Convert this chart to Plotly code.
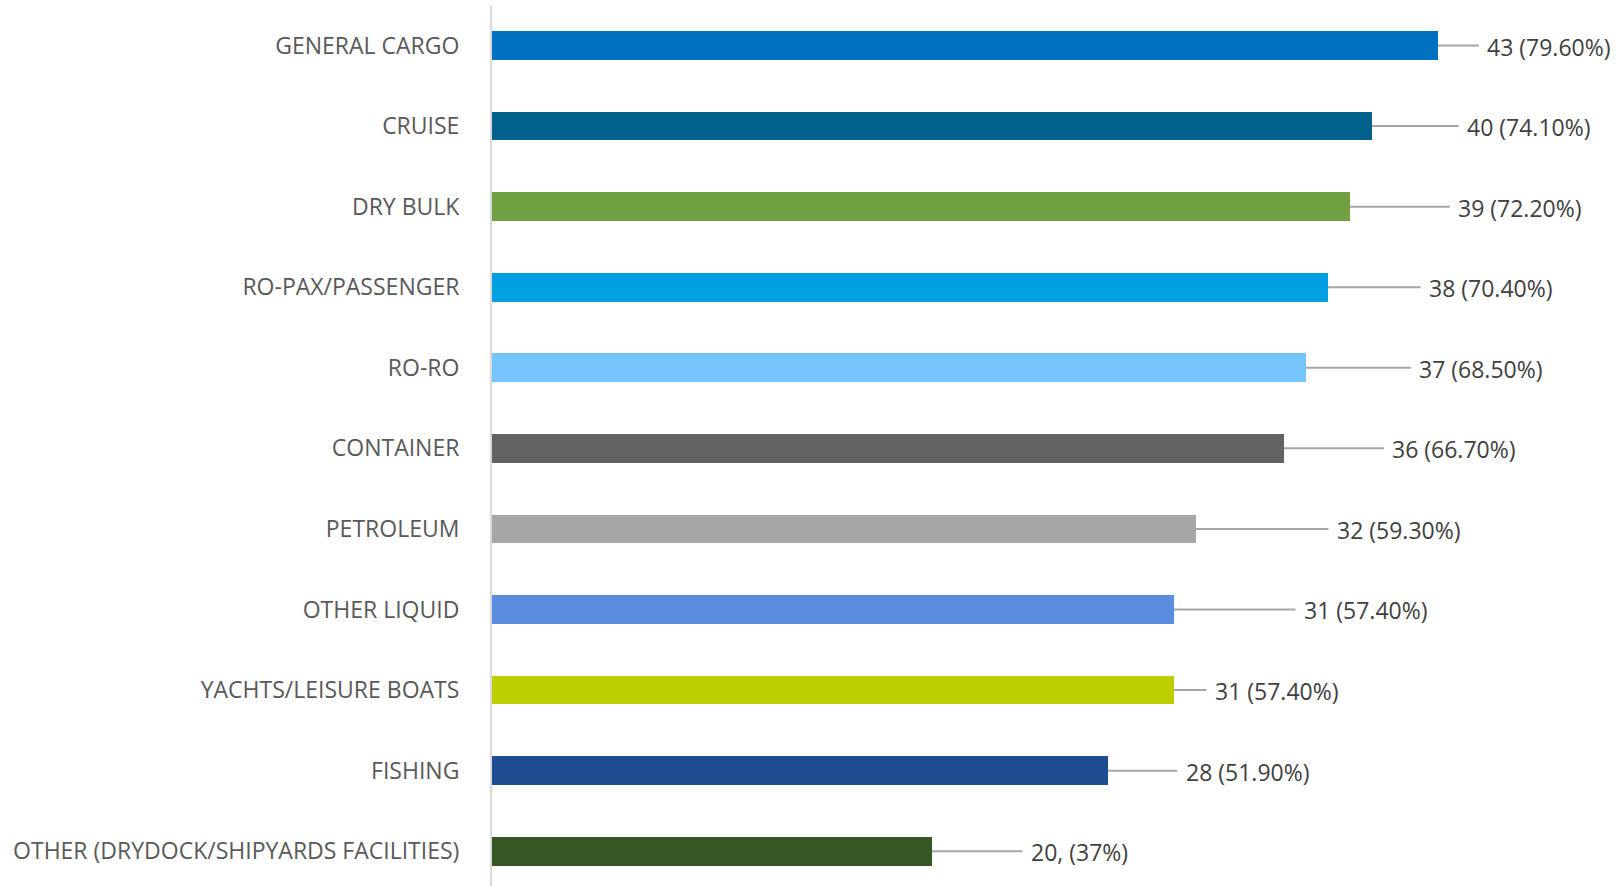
import plotly.graph_objects as go

# Vessel types served and how many respondents named each
categories = [
    "GENERAL CARGO",
    "CRUISE",
    "DRY BULK",
    "RO-PAX/PASSENGER",
    "RO-RO",
    "CONTAINER",
    "PETROLEUM",
    "OTHER LIQUID",
    "YACHTS/LEISURE BOATS",
    "FISHING",
    "OTHER (DRYDOCK/SHIPYARDS FACILITIES)",
]
counts = [43, 40, 39, 38, 37, 36, 32, 31, 31, 28, 20]
value_labels = [
    "43 (79.60%)",
    "40 (74.10%)",
    "39 (72.20%)",
    "38 (70.40%)",
    "37 (68.50%)",
    "36 (66.70%)",
    "32 (59.30%)",
    "31 (57.40%)",
    "31 (57.40%)",
    "28 (51.90%)",
    "20, (37%)",
]

# Styling: one colour per bar, and where each callout text starts (x units)
bar_colors = [
    "#0070C0", "#00618A", "#71A042", "#00A0E2", "#75C4FE", "#636363",
    "#A6A6A6", "#5A8DDE", "#BECF00", "#1F4C91", "#375623",
]
label_x = [45.24, 44.32, 43.92, 42.60, 42.15, 40.92, 38.40, 36.90, 32.86, 31.53, 24.49]
leader_gap = 0.38

fig = go.Figure(
    go.Bar(
        x=counts,
        y=categories,
        orientation="h",
        marker=dict(color=bar_colors, line=dict(width=0)),
        width=0.356,
        hoverinfo="skip",
    )
)

# Callout leader lines and value labels
for cat, val, lx, txt in zip(categories, counts, label_x, value_labels):
    fig.add_shape(
        type="line",
        xref="x", yref="y",
        x0=val, x1=lx - leader_gap,
        y0=cat, y1=cat,
        line=dict(color="#A6A6A6", width=2),
        layer="below",
    )
    fig.add_annotation(
        x=lx, y=cat,
        xref="x", yref="y",
        text=txt,
        showarrow=False,
        xanchor="left",
        yanchor="middle",
        xshift=-2,
        yshift=-1,
        font=dict(family="Open Sans", size=23, color="#404040"),
    )

fig.update_layout(
    width=1616,
    height=886,
    margin=dict(l=492, r=0, t=6, b=0),
    paper_bgcolor="white",
    plot_bgcolor="white",
    showlegend=False,
    bargap=0,
    xaxis=dict(
        range=[0, 1124 / 22],
        showgrid=False,
        zeroline=False,
        showline=False,
        showticklabels=False,
        fixedrange=True,
    ),
    yaxis=dict(
        type="category",
        categoryorder="array",
        categoryarray=categories,
        range=[10.432, -0.4903],
        showgrid=False,
        zeroline=False,
        showline=True,
        linecolor="#D9D9D9",
        linewidth=2,
        ticks="",
        ticklabelstandoff=26,
        tickfont=dict(family="Open Sans", size=23, color="#595959"),
        fixedrange=True,
    ),
)

fig.write_html("out.html")
